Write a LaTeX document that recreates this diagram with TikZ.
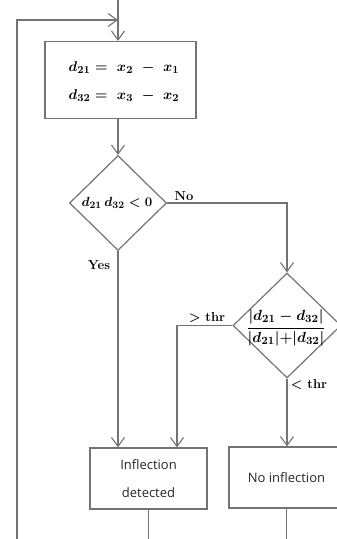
\documentclass[tikz,border=0pt]{standalone}
\usepackage{fontspec}
\newfontfamily\boxfont{Open Sans}
\usetikzlibrary{arrows.meta,shapes.geometric}
\begin{document}
\begin{tikzpicture}[x=1pt,y=-1pt,
  line width=1.2pt,
  lc/.style={draw=black!55},
  arr/.style={lc,-{Straight Barb[length=9pt,width=13pt,line width=1.1pt]}},
  boxn/.style={draw=black!55,rectangle,inner sep=0pt,font=\boxfont\fontsize{13}{28}\selectfont,align=center,text=black!85},
  dia/.style={draw=black!55,diamond,inner sep=0pt},
  lab/.style={font=\fontsize{13}{15}\selectfont\bfseries,inner sep=0pt},
  mth/.style={font=\fontsize{13}{16}\selectfont\boldmath,inner sep=0pt}]
\useasboundingbox (0,0) rectangle (337,539);
\clip (0,0) rectangle (337,539);
% nodes
\node[boxn,minimum width=151pt,minimum height=77pt] (b1) at (120.5,80) {};
\node[mth] (t1) at (124,68) {\scalebox{1.18}{$d_{21} = \ x_2 \ -\ x_1$}};
\node[mth] (t2) at (124,96) {\scalebox{1.18}{$d_{32} = \ x_3 \ -\ x_2$}};
\node[dia,minimum width=97pt,minimum height=95pt] (d1) at (118,203) {};
\node[mth] (t3) at (117,203) {\scalebox{1.1}{$d_{21}\,d_{32} < 0$}};
\node[dia,minimum width=108pt,minimum height=105pt] (d2) at (287,325.5) {};
\node[mth] (t4) at (286,328) {\scalebox{1.22}{$\displaystyle\frac{|d_{21} - d_{32}|}{|d_{21}|{+}|d_{32}|}$}};
\node[boxn,minimum width=117pt,minimum height=61pt] (b2) at (148.5,478.5) {Inflection\\detected};
\node[boxn,minimum width=115pt,minimum height=61pt] (b3) at (286.5,477.5) {No inflection};
% coordinates
\coordinate (top) at (118,0);
\coordinate (ent) at (118,20);
\coordinate (lb) at (17,539);
\coordinate (lt) at (17,20);
\coordinate (nr) at (287,203);
\coordinate (gl) at (177,325.5);
\coordinate (o2) at (148.5,539);
\coordinate (o3) at (286.5,539);
% connectors
\draw[lc] (top) -- (ent);
\draw[arr] (ent) -- (b1.north -| ent);
\draw[arr] (lb) -- (lt) -- (ent);
\draw[arr] (b1.south -| d1) -- (d1.north);
\draw[arr] (d1.south) -- (b2.north -| d1);
\draw[arr] (d1.east) -- (nr) -- (d2.north);
\draw[arr] (d2.west) -- (gl) -- (b2.north -| gl);
\draw[arr] (d2.south) -- (b3.north -| d2);
\draw[lc] (b2.south) -- (o2);
\draw[lc] (b3.south) -- (o3);
% labels
\node[lab] (ln) at (184,196) {No};
\node[lab] (ly) at (99,265) {Yes};
\node[lab] (lg) at (207,318) {> thr};
\node[lab] (ll) at (309,385) {< thr};
\end{tikzpicture}
\end{document}
